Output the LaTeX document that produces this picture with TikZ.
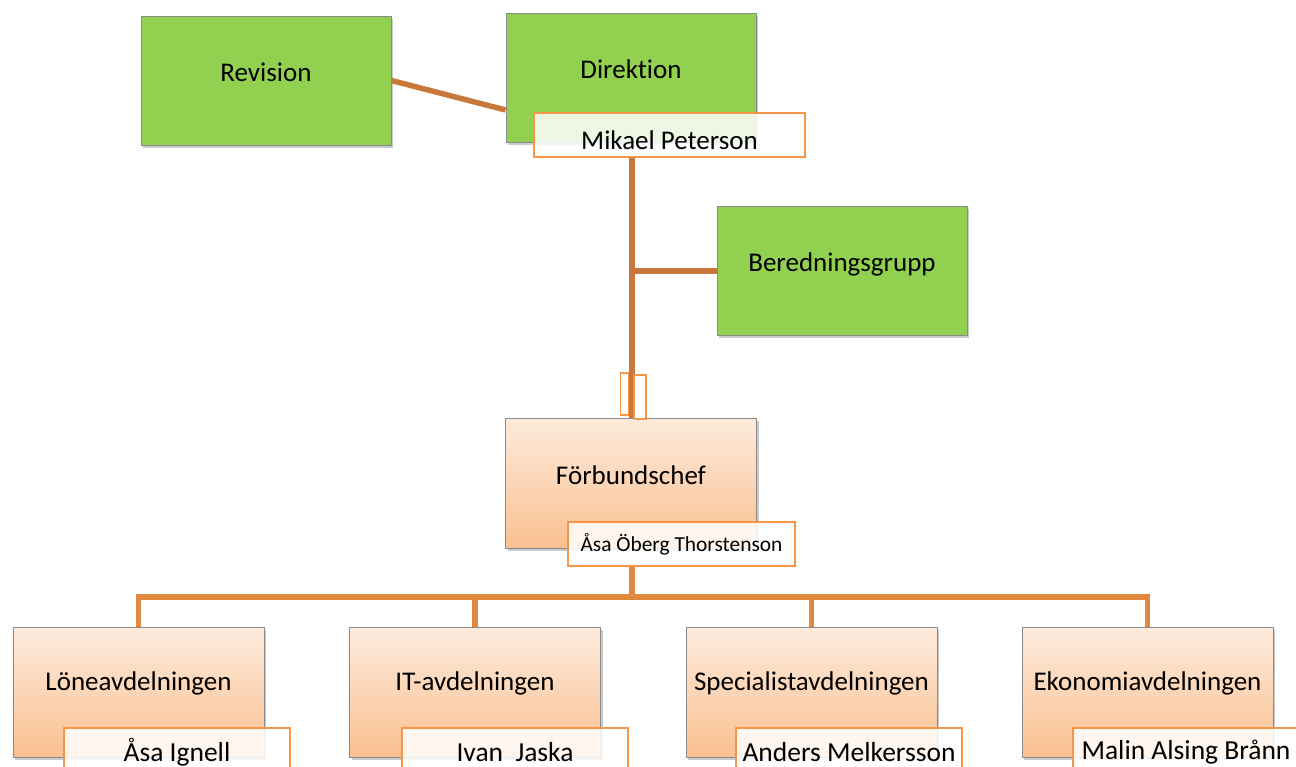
\documentclass[tikz,border=0pt]{standalone}
\usepackage{fontspec}
\setmainfont[Ligatures={NoCommon}]{Carlito}
\usetikzlibrary{shadows,calc}
\definecolor{boxgreen}{HTML}{92D050}
\definecolor{lineA}{HTML}{C8783A}
\definecolor{lineB}{HTML}{E0883D}
\definecolor{nameedge}{HTML}{F79646}
\definecolor{peachtop}{HTML}{FDEBDD}
\definecolor{peachbot}{HTML}{FAC090}
\definecolor{boxedge}{HTML}{8A8A8A}
\tikzset{
  shadowed/.style={drop shadow={shadow xshift=2pt,shadow yshift=-3pt,opacity=0.35,fill=black!60}},
  greenbox/.style={draw=boxedge,line width=0.8pt,fill=boxgreen,minimum width=250pt,minimum height=129pt,inner sep=0pt,shadowed},
  peachbox/.style={draw=boxedge,line width=0.8pt,top color=peachtop,bottom color=peachbot,minimum width=251pt,minimum height=130pt,inner sep=0pt,shadowed},
  namebox/.style={draw=nameedge,line width=1.2pt,fill=white,fill opacity=0.85,text opacity=1,minimum width=226pt,minimum height=48pt,inner sep=0pt,font=\fontsize{27.5}{32}\selectfont},
  emptybox/.style={draw=nameedge,line width=1.2pt,fill=white,fill opacity=0.3},
  linkA/.style={draw=lineA,line width=5.5pt},
  linkB/.style={draw=lineB,line width=5.5pt},
  lbl/.style={font=\fontsize{27}{32}\selectfont}
}
\begin{document}
\begin{tikzpicture}[x=1pt,y=-1pt]
\useasboundingbox (0,0) rectangle (1296,767);
\clip (0,0) rectangle (1296,767);
\coordinate (bus) at (632,597);
% boxes
\node[greenbox,label={[lbl,yshift=8.5pt]center:Revision}] (Rev) at (266,80.5) {};
\node[greenbox,label={[lbl,yshift=8.5pt]center:Direktion}] (Dir) at (631,77.5) {};
\node[greenbox,label={[lbl,yshift=7pt]center:Beredningsgrupp}] (Ber) at (842,271) {};
\node[peachbox,label={[lbl,yshift=8pt]center:Förbundschef}] (FC) at (631,483) {};
\node[peachbox,label={[lbl,yshift=9pt]center:Löneavdelningen}] (L1) at (138.5,692) {};
\node[peachbox,label={[lbl,yshift=9pt]center:IT-avdelningen}] (L2) at (475,692) {};
\node[peachbox,label={[lbl,yshift=9pt]center:Specialistavdelningen}] (L3) at (811.5,692) {};
\node[peachbox,label={[lbl,yshift=9pt]center:Ekonomiavdelningen}] (L4) at (1147.5,692) {};
% connectors
\draw[linkA] (Rev.east) -- ([yshift=-32.5pt]Dir.west);
\node[namebox,minimum width=271pt,minimum height=44pt,label={[lbl,yshift=-5pt]center:Mikael\ Peterson}] (MP) at (669.5,135) {};
\draw[linkA] (MP.south -| 632,0) -- (632,418);
\draw[linkA] (Ber.west) -- (Ber.west -| 632,0);
\node[namebox,minimum width=227pt,minimum height=44pt,font=\fontsize{21.4}{25}\selectfont] (AOT) at (681.5,544) {Åsa Öberg Thorstenson};
\draw[linkB] (AOT.south -| bus) -- (bus);
\draw[linkB,line join=miter] (L1.north) -- (L1.north |- bus) -- (L4.north |- bus) -- (L4.north);
\draw[linkB] (L2.north) -- (L2.north |- bus);
\draw[linkB] (L3.north) -- (L3.north |- bus);
% empty leftover boxes
\node[emptybox,minimum width=8pt,minimum height=42pt,inner sep=0pt] (E1) at (624.5,394) {};
\node[emptybox,minimum width=12pt,minimum height=44pt,inner sep=0pt] (E2) at (640,397) {};
% name boxes
\node[namebox] (N1) at (177,752) {Åsa Ignell};
\node[namebox] (N2) at (515,752) {Ivan\ \ Jaska};
\node[namebox] (N3) at (849,752) {Anders Melkersson};
\node[namebox] (N4) at (1186,752) {Malin Alsing Brånn};
\end{tikzpicture}
\end{document}
